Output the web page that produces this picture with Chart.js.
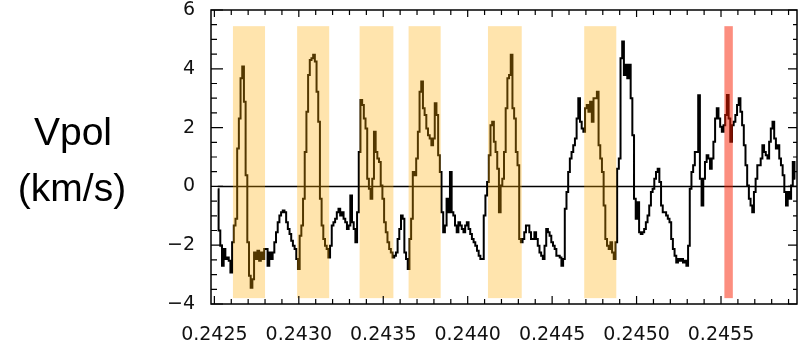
<!DOCTYPE html>
<html>
<head>
<meta charset="UTF-8">
<title>Vpol</title>
<script src="https://cdn.jsdelivr.net/npm/chart.js"></script>
<style>
  html, body { margin: 0; padding: 0; background: #fff; }
  #wrap { width: 799px; height: 340px; position: relative; }
</style>
</head>
<body>
<div id="wrap"><canvas id="c"></canvas></div>
<script>
// sampling of the trace (x axis units)
const tStart = 0.24252;
const tStep = 0.00001;

// Vpol (km/s)
const vpol = [
  -0.1, -1.5, -2.02, -2.7, -2.13, -2.47, -2.42, -2.53, -2.93, -1.9,
  -1.33, -1.1, 1.29, 2.31, 3.68, 4.08, 2.88, 0.38, -1.9, -3.04,
  -3.45, -3.16, -2.25, -2.47, -2.19, -2.53, -2.25, -2.47, -2.13, -2.13,
  -2.7, -2.25, -2.47, -2.25, -1.9, -1.56, -1.22, -0.99, -0.88, -0.82,
  -0.88, -1.22, -1.45, -1.62, -1.85, -2.02, -2.13, -2.47, -2.81, -1.68,
  -1.33, -0.42, 1.17, 2.54, 3.79, 4.3, 4.36, 4.48, 4.25, 3.22,
  2.2, -0.42, -1.33, -1.79, -2.02, -2.13, -2.42, -2.02, -1.33, -1.22,
  -1.1, -0.88, -0.76, -0.99, -0.88, -1.1, -1.22, -1.45, -1.33, -0.31,
  -1.22, -1.45, -1.9, -0.88, 1.17, 2.94, 2.77, 2.31, 1.97, 0.26,
  -0.08, -0.42, 0.26, 1.86, 1.17, 0.95, 0.83, 0.03, -0.42, -1.22,
  -1.56, -1.9, -2.13, -2.25, -2.42, -2.36, -2.25, -1.79, -1.45, -0.99,
  -1.1, -2.25, -2.47, -2.81, -1.79, -1.1, 0.49, 0.38, 0.95, 1.86,
  3.22, 3.57, 2.66, 2.43, 1.97, 1.74, 1.63, 1.4, 1.63, 2.83,
  2.43, 1.06, 0.49, -0.88, -1.56, -1.33, -0.42, -0.88, 0.49, -0.88,
  -0.99, -1.33, -1.56, -1.22, -1.33, -1.45, -1.56, -1.33, -1.22, -1.45,
  -1.62, -1.79, -1.9, -2.02, -2.19, -2.36, -2.47, -2.47, -0.99, -0.31,
  0.15, 1.06, 2.08, 2.2, 1.52, 1.17, 0.6, -0.88, 0.03, 0.26,
  1.17, 2.66, 3.68, 3.79, 4.48, 2.66, 2.31, 1.17, 0.72, -1.79,
  -1.9, -1.79, -1.56, -1.33, -1.33, -1.56, -1.79, -1.79, -1.56, -1.79,
  -2.02, -2.25, -2.36, -2.47, -2.02, -1.45, -1.56, -1.68, -1.9, -2.02,
  -2.13, -2.36, -2.36, -2.42, -2.7, -2.47, -0.76, -0.19, 0.49, 0.95,
  1.17, 1.4, 1.63, 2.31, 3.0, 2.2, 1.97, 1.86, 2.66, 2.77,
  2.54, 2.88, 2.2, 3.0, 3.0, 3.22, 1.4, 0.95, 0.49, -0.65,
  -1.79, -2.02, -2.13, -1.9, -2.25, -2.47, -1.9, 0.6, 0.95, 4.36,
  4.93, 3.79, 4.14, 3.68, 4.14, 3.0, 1.74, -0.42, -1.1, -0.54,
  -1.56, -1.62, -1.56, -1.45, -1.22, -0.99, -0.65, -0.19, -0.08, 0.26,
  0.49, 0.6, 0.15, -0.65, -0.88, -0.88, -0.99, -1.1, -1.22, -1.79,
  -2.13, -2.36, -2.59, -2.47, -2.53, -2.47, -2.59, -2.53, -2.7, -2.02,
  -0.08, 0.49, 0.72, 1.17, 1.17, 3.1, 0.26, -0.65, 0.26, 0.83,
  1.06, 0.95, 0.6, 0.95, 1.52, 2.31, 2.66, 2.31, 2.03, 1.86,
  2.08, 2.43, 3.11, 2.31, 1.52, 2.08, 2.2, 2.43, 2.77, 3.0,
  2.54, 2.08, 1.4, 0.72, 0.03, -0.42, -0.65, -0.88, -0.19, 0.26,
  0.72, 0.72, 0.95, 1.4, 1.17, 1.06, 0.95, 1.52, 1.97, 2.2,
  1.63, 1.29, 1.4, 0.95, 0.72, 0.38, -0.19, -0.65, -0.19, -0.42,
  0.03, 0.83, 0.26
];

const xTicks = [0.2425, 0.2430, 0.2435, 0.2440, 0.2445, 0.2450, 0.2455];
const yTicks = [-4, -2, 0, 2, 4, 6];
const yTickLabels = ['\u22124', '\u22122', '0', '2', '4', '6'];

// highlighted intervals
const bandStart = [0.24261, 0.24299, 0.24336, 0.24365, 0.24412, 0.24469];
const bandEnd   = [0.24280, 0.24318, 0.24356, 0.24384, 0.24432, 0.24488];
const redStart = [0.24552];
const redEnd   = [0.24557];
const bandTop = 5.45;
const bandBottom = -3.8;

const xMin = 0.24248, xMax = 0.24595;
const yMin = -4, yMax = 6;

const points = vpol.map((v, i) => ({ x: tStart + i * tStep, y: v }));
const zeroLine = [{ x: tStart, y: 0 }, { x: xMax, y: 0 }];

// bands go over the trace, semi transparent
const bandsPlugin = {
  id: 'bands',
  afterDatasetsDraw(chart) {
    const { ctx, chartArea, scales } = chart;
    const x = scales.x, y = scales.y;
    ctx.save();
    ctx.beginPath();
    ctx.rect(chartArea.left, chartArea.top, chartArea.right - chartArea.left, chartArea.bottom - chartArea.top);
    ctx.clip();
    const yt = y.getPixelForValue(bandTop), yb = y.getPixelForValue(bandBottom);
    ctx.fillStyle = 'rgba(255, 170, 0, 0.32)';
    for (let i = 0; i < bandStart.length; i++) {
      const x0 = x.getPixelForValue(bandStart[i]), x1 = x.getPixelForValue(bandEnd[i]);
      ctx.fillRect(x0, yt, x1 - x0, yb - yt);
    }
    ctx.fillStyle = 'rgba(250, 30, 0, 0.5)';
    for (let i = 0; i < redStart.length; i++) {
      const x0 = x.getPixelForValue(redStart[i]), x1 = x.getPixelForValue(redEnd[i]);
      ctx.fillRect(x0, yt, x1 - x0, yb - yt);
    }
    ctx.restore();
  }
};

// box frame with inward ticks, plus the horizontal axis title
const framePlugin = {
  id: 'frame',
  afterDraw(chart) {
    const { ctx, chartArea: a, scales } = chart;
    const x = scales.x, y = scales.y;
    ctx.save();
    ctx.strokeStyle = '#000';
    ctx.lineWidth = 1.5;
    ctx.strokeRect(a.left, a.top, a.right - a.left, a.bottom - a.top);
    ctx.lineWidth = 1.2;
    ctx.beginPath();
    for (let k = 0; k <= 20; k++) {
      const v = yMin + k * 0.5;
      const py = y.getPixelForValue(v);
      const major = k % 4 === 0;
      ctx.moveTo(a.left, py); ctx.lineTo(a.left + (major ? 12 : 6), py);
      ctx.moveTo(a.right, py); ctx.lineTo(a.right - (major ? 9 : 4), py);
    }
    for (let k = 0; k <= 40; k++) {
      const v = 0.2425 + k * 0.0001;
      if (v > xMax) break;
      const px = x.getPixelForValue(v);
      const major = k % 5 === 0;
      ctx.moveTo(px, a.bottom); ctx.lineTo(px, a.bottom - (major ? 8 : 5));
      ctx.moveTo(px, a.top); ctx.lineTo(px, a.top + (major ? 7 : 5));
    }
    ctx.stroke();

    ctx.fillStyle = '#000';
    ctx.font = '39px "Liberation Sans", Arial, sans-serif';
    ctx.textAlign = 'center';
    ctx.textBaseline = 'alphabetic';
    ctx.fillText('Vpol', 73, 145);
    ctx.fillText('(km/s)', 72, 201);
    ctx.restore();
  }
};

const tickFont = { family: '"DejaVu Sans", sans-serif', size: 19 };

new Chart(document.getElementById('c'), {
  type: 'line',
  data: {
    datasets: [
      {
        data: zeroLine,
        borderColor: '#000',
        borderWidth: 1.5,
        pointRadius: 0,
        fill: false
      },
      {
        data: points,
        borderColor: '#000',
        borderWidth: 2,
        pointRadius: 0,
        stepped: 'middle',
        fill: false
      }
    ]
  },
  options: {
    responsive: true,
    maintainAspectRatio: false,
    animation: false,
    events: [],
    layout: { padding: { top: 10, right: 2, left: 0, bottom: 0 } },
    plugins: { legend: { display: false }, tooltip: { enabled: false } },
    scales: {
      x: {
        type: 'linear',
        min: xMin,
        max: xMax,
        grid: { display: false },
        border: { display: false },
        ticks: {
          font: tickFont,
          color: '#111',
          padding: 12,
          maxRotation: 0,
          autoSkip: false,
          callback: v => v.toFixed(4)
        },
        afterBuildTicks: s => { s.ticks = xTicks.map(v => ({ value: v })); },
        afterFit: s => {
          s.height = 36;
          s.paddingLeft = 0; s.paddingRight = 0;
        }
      },
      y: {
        min: yMin,
        max: yMax,
        grid: { display: false },
        border: { display: false },
        ticks: {
          font: tickFont,
          color: '#111',
          padding: 8,
          callback: v => yTickLabels[yTicks.indexOf(v)]
        },
        afterBuildTicks: s => { s.ticks = yTicks.map(v => ({ value: v })); },
        afterFit: s => {
          s.width = 211;
          s.paddingTop = 0; s.paddingBottom = 0;
        }
      }
    }
  },
  plugins: [bandsPlugin, framePlugin]
});
</script>
</body>
</html>
